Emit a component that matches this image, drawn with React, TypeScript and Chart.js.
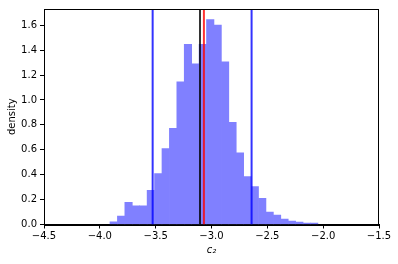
import React, { useEffect, useRef } from "react";
import { Chart, registerables } from "chart.js";

Chart.register(...registerables);

// Histogram (density) bins
const binStart = -3.909;
const binWidth = 0.0665;
const densities = [
  0.022, 0.067, 0.178, 0.15, 0.15, 0.274, 0.408, 0.61, 0.773, 1.146,
  1.447, 1.29, 1.447, 1.645, 1.6, 1.305, 0.82, 0.575, 0.385, 0.305,
  0.21, 0.099, 0.075, 0.044, 0.028, 0.02, 0.012, 0.012,
];

// Vertical reference lines
const lineLabels = ["lower", "upper", "mean", "true"];
const lineValues = [-3.527, -2.641, -3.103, -3.068];
const lineColors = [
  "rgba(0,0,255,0.8)",
  "rgba(0,0,255,0.8)",
  "rgba(0,0,0,0.8)",
  "rgba(255,0,0,0.8)",
];

const xTicks = [-4.5, -4.0, -3.5, -3.0, -2.5, -2.0, -1.5];
const yTicks = [0, 0.2, 0.4, 0.6, 0.8, 1.0, 1.2, 1.4, 1.6];
const yMax = 1.73;

const fmt = (v: number) => v.toFixed(1).replace("-", "\u2212");

export default function App() {
  const ref = useRef<HTMLCanvasElement | null>(null);

  useEffect(() => {
    document.body.style.margin = "0";
    const canvas = ref.current;
    if (!canvas) return;

    const barData = densities.map((d, i) => ({
      x: binStart + binWidth * (i + 0.5),
      y: d,
    }));

    const lineSets = lineValues.map((v, i) => ({
      type: "line" as const,
      label: lineLabels[i],
      data: [
        { x: v, y: 0 },
        { x: v, y: yMax },
      ],
      borderColor: lineColors[i],
      borderWidth: 2,
      pointRadius: 0,
      fill: false,
      order: 0,
    }));

    const frame = {
      id: "frame",
      afterDraw(chart: any) {
        const { ctx, chartArea } = chart;
        ctx.save();
        ctx.strokeStyle = "#000";
        ctx.lineWidth = 1;
        ctx.strokeRect(
          Math.round(chartArea.left) + 0.5,
          Math.round(chartArea.top) + 0.5,
          Math.round(chartArea.right - chartArea.left) - 1,
          Math.round(chartArea.bottom - chartArea.top)
        );
        ctx.restore();
      },
    };

    const chart = new Chart(canvas, {
      type: "bar",
      data: {
        datasets: [
          ...lineSets,
          {
            type: "bar" as const,
            label: "hist",
            data: barData,
            backgroundColor: "#8080ff",
            borderWidth: 0,
            barPercentage: 1,
            categoryPercentage: 1,
            order: 1,
          },
        ] as any,
      },
      options: {
        animation: false,
        responsive: false,
        devicePixelRatio: 1,
        layout: { padding: { top: 7, right: 19, left: 0, bottom: 0 } },
        plugins: {
          legend: { display: false },
          tooltip: { enabled: false },
        },
        scales: {
          x: {
            type: "linear",
            min: -4.5,
            max: -1.5,
            offset: false,
            afterBuildTicks: (s: any) => {
              s.ticks = xTicks.map((v) => ({ value: v }));
            },
            afterFit: (s: any) => {
              s.height = 39.5;
            },
            grid: {
              offset: false,
              drawOnChartArea: false,
              drawTicks: true,
              tickLength: 4,
              color: "#000",
            },
            border: { display: true, color: "#000", width: 1 },
            ticks: {
              callback: (v: any) => fmt(Number(v)),
              color: "#000",
              padding: 2,
              maxRotation: 0,
              autoSkip: false,
              font: { family: "DejaVu Sans", size: 10 },
            },
            title: {
              display: true,
              text: "c\u2082",
              color: "#000",
              font: { family: "DejaVu Sans", size: 10, style: "italic" },
              padding: { top: 0, bottom: 8 },
            },
          },
          y: {
            type: "linear",
            min: 0,
            max: yMax,
            afterBuildTicks: (s: any) => {
              s.ticks = yTicks.map((v) => ({ value: v }));
            },
            afterFit: (s: any) => {
              s.width = 44;
            },
            grid: {
              drawOnChartArea: false,
              drawTicks: true,
              tickLength: 4,
              color: "#000",
            },
            border: { display: true, color: "#000", width: 1 },
            ticks: {
              callback: (v: any) => fmt(Number(v)),
              color: "#000",
              padding: 3,
              autoSkip: false,
              font: { family: "DejaVu Sans", size: 10 },
            },
            title: {
              display: true,
              text: "density",
              color: "#000",
              font: { family: "DejaVu Sans", size: 10 },
              padding: { top: 6, bottom: 0 },
            },
          },
        },
      },
      plugins: [frame],
    });

    return () => chart.destroy();
  }, []);

  return (
    <div style={{ width: 398, height: 264 }}>
      <canvas ref={ref} width={398} height={264} />
    </div>
  );
}
